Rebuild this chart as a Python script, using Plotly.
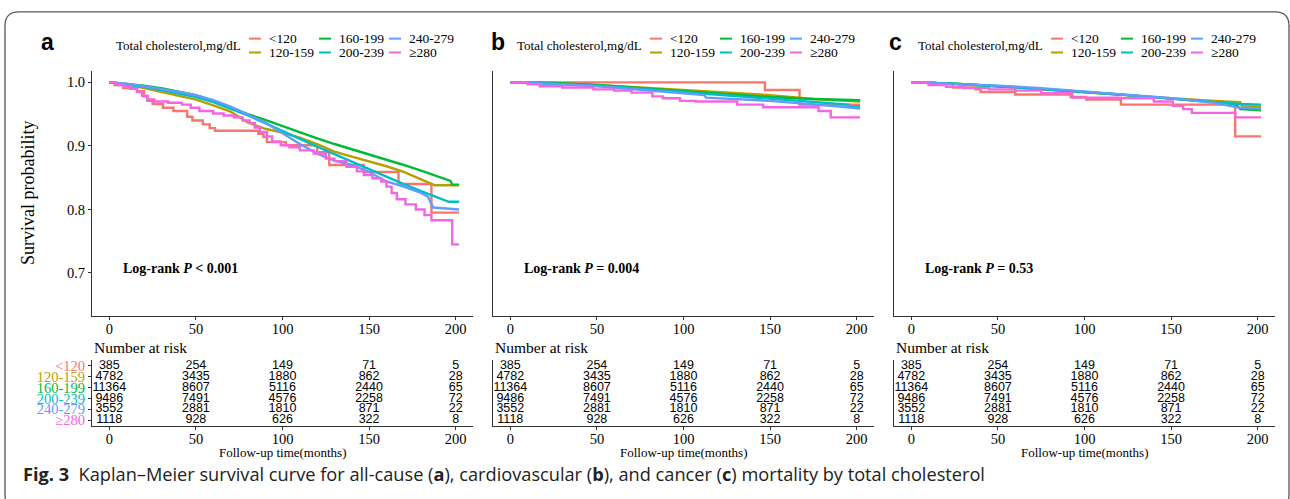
import plotly.graph_objects as go

W, H = 1290, 499


def fx(px):
    return px / W


def fy(py):
    return 1 - py / H


# ---------------- data ----------------
groups = ["<120", "120-159", "160-199", "200-239", "240-279", "≥280"]
colors = ["#F8766D", "#B79F00", "#00BA38", "#00BFC4", "#619CFF", "#F564E3"]
panel_letters = ["a", "b", "c"]
pvalue_labels = ["Log-rank <i>P</i> &lt; 0.001", "Log-rank <i>P</i> = 0.004", "Log-rank <i>P</i> = 0.53"]
x_ticks = [0, 50, 100, 150, 200]
y_ticks = [0.7, 0.8, 0.9, 1.0]
y_ticklabels = ["0.7", "0.8", "0.9", "1.0"]

# Panel a: all-cause mortality
a_lt120_t = [0, 3, 8, 16, 20, 22, 25, 31, 37, 45, 48, 54, 58, 61, 86, 89, 91, 102, 120, 127, 147, 167, 186, 202]
a_lt120_s = [1.0, .996, .991, .986, .978, .971, .966, .960, .955, .946, .940, .934, .928, .924, .919, .914, .906, .901, .890, .870, .859, .840, .795, .795]
a_120_t = [0, 10, 20, 30, 40, 50, 60, 70, 80, 90, 100, 110, 120, 130, 140, 150, 160, 170, 180, 188, 202]
a_120_s = [1.0, .997, .991, .985, .979, .973, .964, .954, .937, .927, .921, .913, .903, .891, .883, .876, .868, .859, .847, .838, .838]
a_160_t = [0, 10, 20, 30, 40, 50, 60, 70, 80, 90, 100, 110, 120, 130, 140, 150, 160, 170, 180, 190, 197, 198, 202]
a_160_s = [1.0, .998, .995, .991, .986, .980, .971, .960, .950, .941, .931, .921, .912, .903, .895, .886, .879, .870, .861, .852, .845, .839, .839]
a_200_t = [0, 10, 20, 30, 40, 50, 60, 70, 80, 90, 100, 110, 120, 130, 140, 150, 160, 170, 180, 190, 196, 202]
a_200_s = [1.0, .997, .993, .988, .983, .977, .969, .959, .948, .936, .923, .911, .899, .887, .875, .864, .852, .840, .829, .818, .812, .812]
a_240_t = [0, 10, 20, 30, 40, 50, 60, 70, 80, 90, 100, 110, 120, 130, 140, 150, 160, 170, 180, 184, 187, 202]
a_240_s = [1.0, .998, .994, .990, .985, .980, .972, .962, .950, .937, .920, .903, .888, .877, .870, .859, .844, .836, .826, .820, .803, .800]
a_280_t = [0, 4, 8, 12, 16, 19, 22, 26, 34, 42, 47, 52, 60, 66, 72, 77, 81, 84, 87, 91, 94, 99, 104, 110, 118, 125, 130, 137, 143, 147, 152, 157, 160, 163, 166, 171, 177, 182, 186, 198, 202]
a_280_s = [1.0, .996, .993, .990, .985, .979, .973, .970, .968, .965, .960, .955, .951, .948, .945, .940, .936, .929, .922, .915, .907, .901, .898, .893, .888, .880, .876, .867, .860, .854, .849, .844, .836, .826, .816, .808, .800, .791, .783, .745, .745]

# Panel b: cardiovascular mortality
b_lt120_t = [0, 147, 167, 202]
b_lt120_s = [1.0, .988, .965, .965]
b_120_t = [0, 25, 50, 75, 100, 125, 150, 175, 200, 202]
b_120_s = [1.0, .999, .996, .992, .989, .985, .980, .974, .970, .970]
b_160_t = [0, 25, 50, 75, 100, 125, 150, 175, 200, 202]
b_160_s = [1.0, .999, .996, .991, .986, .981, .977, .974, .972, .972]
b_200_t = [0, 25, 50, 75, 100, 125, 150, 175, 195, 196, 202]
b_200_s = [1.0, .998, .995, .990, .985, .980, .975, .969, .965, .962, .962]
b_240_t = [0, 25, 50, 80, 100, 112, 113, 150, 175, 190, 202]
b_240_s = [1.0, .998, .994, .988, .983, .980, .976, .971, .966, .962, .959]
b_280_t = [0, 10, 17, 30, 48, 60, 70, 82, 88, 98, 107, 131, 146, 178, 185, 202]
b_280_s = [1.0, .997, .994, .992, .989, .987, .984, .978, .975, .971, .970, .965, .961, .955, .945, .945]

# Panel c: cancer mortality
c_lt120_t = [0, 14, 24, 37, 40, 60, 92, 101, 121, 187, 202]
c_lt120_s = [1.0, .997, .992, .989, .985, .981, .977, .973, .965, .915, .915]
c_120_t = [0, 25, 50, 75, 100, 125, 150, 175, 190, 191, 202]
c_120_s = [1.0, .998, .994, .989, .984, .980, .975, .971, .969, .962, .962]
c_160_t = [0, 25, 50, 75, 100, 125, 150, 175, 187, 190, 202]
c_160_s = [1.0, .998, .994, .990, .985, .980, .975, .969, .966, .958, .956]
c_200_t = [0, 25, 50, 75, 100, 125, 150, 175, 190, 202]
c_200_s = [1.0, .998, .994, .990, .985, .980, .974, .969, .966, .965]
c_240_t = [0, 25, 50, 75, 100, 125, 150, 175, 185, 190, 202]
c_240_s = [1.0, .998, .995, .991, .986, .981, .975, .968, .963, .960, .959]
c_280_t = [0, 10, 20, 30, 45, 60, 75, 93, 121, 140, 151, 157, 162, 187, 202]
c_280_s = [1.0, .996, .993, .991, .989, .987, .983, .976, .975, .970, .963, .958, .952, .945, .945]

# Number at risk (same in every panel)
risk_times = [0, 50, 100, 150, 200]
risk_lt120 = [385, 254, 149, 71, 5]
risk_120 = [4782, 3435, 1880, 862, 28]
risk_160 = [11364, 8607, 5116, 2440, 65]
risk_200 = [9486, 7491, 4576, 2258, 72]
risk_240 = [3552, 2881, 1810, 871, 22]
risk_280 = [1118, 928, 626, 322, 8]

caption_bold = "Fig. 3"
caption_text = ("Kaplan–Meier survival curve for all-cause (<b>a</b>), cardiovascular (<b>b</b>), "
                "and cancer (<b>c</b>) mortality by total cholesterol")

# ---------------- figure ----------------
panels = [
    [(a_lt120_t, a_lt120_s), (a_120_t, a_120_s), (a_160_t, a_160_s),
     (a_200_t, a_200_s), (a_240_t, a_240_s), (a_280_t, a_280_s)],
    [(b_lt120_t, b_lt120_s), (b_120_t, b_120_s), (b_160_t, b_160_s),
     (b_200_t, b_200_s), (b_240_t, b_240_s), (b_280_t, b_280_s)],
    [(c_lt120_t, c_lt120_s), (c_120_t, c_120_s), (c_160_t, c_160_s),
     (c_200_t, c_200_s), (c_240_t, c_240_s), (c_280_t, c_280_s)],
]
risks = [risk_lt120, risk_120, risk_160, risk_200, risk_240, risk_280]

SERIF = "Liberation Serif, Times New Roman, serif"
SANS = "Liberation Sans, Arial, sans-serif"
AXC = "#333333"

axis_left = [92, 493, 894]
axis_right = [473, 874, 1275]

fig = go.Figure()
layout = dict(
    width=W, height=H, margin=dict(l=0, r=0, t=0, b=0),
    paper_bgcolor="white", plot_bgcolor="white", showlegend=False,
)

for p in range(3):
    km = p + 1
    tb = p + 4
    kx = "x" if km == 1 else f"x{km}"
    ky = "y" if km == 1 else f"y{km}"
    for g in range(6):
        t, s = panels[p][g]
        fig.add_trace(go.Scatter(
            x=t, y=s, mode="lines",
            line=dict(color=colors[g], width=2.4, shape="hv" if g in (0, 5) else "linear"),
            xaxis=kx, yaxis=ky, hoverinfo="skip", showlegend=False))
    for g in range(6):
        fig.add_trace(go.Scatter(
            x=risk_times, y=[6 - g] * len(risk_times),
            text=[str(v) for v in risks[g]], mode="text",
            textfont=dict(family=SANS, size=12.5, color="black"),
            textposition="middle center",
            xaxis=f"x{tb}", yaxis=f"y{tb}", hoverinfo="skip", showlegend=False))

    dom = [fx(axis_left[p]), fx(axis_right[p])]
    xcommon = dict(
        range=[-10, 210], tickvals=x_ticks, ticktext=[str(v) for v in x_ticks],
        ticks="outside", ticklen=3, tickwidth=1, tickcolor=AXC,
        showline=True, linecolor=AXC, linewidth=1, showgrid=False, zeroline=False,
        tickfont=dict(family=SERIF, size=14.5, color="black"), domain=dom, fixedrange=True,
        ticklabelstandoff=-3,
    )
    layout[f"xaxis{'' if km == 1 else km}"] = dict(xcommon, anchor=ky)
    layout[f"xaxis{tb}"] = dict(xcommon, anchor=f"y{tb}")
    layout[f"yaxis{'' if km == 1 else km}"] = dict(
        range=[0.6325, 1.0175], tickvals=y_ticks, ticktext=y_ticklabels,
        ticks="outside" if p == 0 else "", ticklen=3, tickcolor=AXC,
        showticklabels=(p == 0),
        showline=True, linecolor=AXC, linewidth=1, showgrid=False, zeroline=False,
        tickfont=dict(family=SERIF, size=14.5, color="black"),
        domain=[fy(317), fy(70)], anchor=kx, fixedrange=True)
    layout[f"yaxis{tb}"] = dict(
        range=[0.5, 6.5], tickvals=[6, 5, 4, 3, 2, 1],
        ticktext=[f'<span style="color:{colors[g]}">{groups[g].replace("<", "&lt;")}</span>' for g in range(6)],
        ticks="outside" if p == 0 else "", ticklen=3, tickcolor=AXC,
        showticklabels=(p == 0),
        showline=True, linecolor=AXC, linewidth=1, showgrid=False, zeroline=False,
        tickfont=dict(family=SERIF, size=14.5),
        domain=[fy(428), fy(362)], anchor=f"x{tb}", fixedrange=True)

annotations = []
shapes = []
letter_x = [47, 498, 895]
for p in range(3):
    ax0 = axis_left[p]
    annotations.append(dict(text=f"<b>{panel_letters[p]}</b>", x=fx(letter_x[p]), y=fy(40),
                            xref="paper", yref="paper", xanchor="center", yanchor="middle",
                            showarrow=False, font=dict(family=SANS, size=23, color="black")))
    annotations.append(dict(text="Total cholesterol,mg/dL", x=fx(ax0 + 22), y=fy(44),
                            xref="paper", yref="paper", xanchor="left", yanchor="middle",
                            showarrow=False, font=dict(family=SERIF, size=13, color="black")))
    for col in range(3):
        for row in range(2):
            g = col * 2 + row
            yy = 37 + 14 * row
            x0 = ax0 + 157 + 70 * col
            shapes.append(dict(type="line", xref="paper", yref="paper",
                               x0=fx(x0), x1=fx(x0 + 12), y0=fy(yy), y1=fy(yy),
                               line=dict(color=colors[g], width=2)))
            annotations.append(dict(text=groups[g].replace("<", "&lt;"), x=fx(ax0 + 175 + 70 * col), y=fy(yy),
                                    xref="paper", yref="paper", xanchor="left", yanchor="middle",
                                    showarrow=False, font=dict(family=SERIF, size=13.5, color="black")))
    km = p + 1
    annotations.append(dict(text=f"<b>{pvalue_labels[p]}</b>", x=7, y=0.707,
                            xref="x" if km == 1 else f"x{km}", yref="y" if km == 1 else f"y{km}",
                            xanchor="left", yanchor="middle", showarrow=False,
                            font=dict(family=SERIF, size=14, color="black")))
    annotations.append(dict(text="Number at risk", x=fx(ax0), y=fy(349),
                            xref="paper", yref="paper", xanchor="left", yanchor="middle",
                            showarrow=False, font=dict(family=SERIF, size=15.5, color="black")))
    annotations.append(dict(text="Follow-up time(months)", x=fx((axis_left[p] + axis_right[p]) / 2), y=fy(455),
                            xref="paper", yref="paper", xanchor="center", yanchor="middle",
                            showarrow=False, font=dict(family=SERIF, size=13, color="black")))

annotations.append(dict(text="Survival probability", x=fx(28), y=fy(193), textangle=-90,
                        xref="paper", yref="paper", xanchor="center", yanchor="middle",
                        showarrow=False, font=dict(family=SERIF, size=18, color="black")))
annotations.append(dict(text=f"<b>{caption_bold}</b>  {caption_text}", x=fx(21), y=fy(477),
                        xref="paper", yref="paper", xanchor="left", yanchor="middle",
                        showarrow=False, font=dict(family="Open Sans, Noto Sans, sans-serif", size=18.2, color="#222222")))

# rounded border frame
L, T, R, B, r = 5, 10, 1289, 512, 14
pts = [
    ("M", L + r, T), ("L", R - r, T), ("Q", R, T, R, T + r), ("L", R, B - r), ("Q", R, B, R - r, B),
    ("L", L + r, B), ("Q", L, B, L, B - r), ("L", L, T + r), ("Q", L, T, L + r, T),
]
path = ""
for seg in pts:
    cmd = seg[0]
    coords = seg[1:]
    path += cmd + " " + " ".join(
        f"{fx(coords[i]):.5f},{fy(coords[i + 1]):.5f}" for i in range(0, len(coords), 2)) + " "
path += "Z"
shapes.append(dict(type="path", path=path, xref="paper", yref="paper",
                   line=dict(color="#555555", width=1.3), fillcolor="rgba(0,0,0,0)"))

layout["annotations"] = annotations
layout["shapes"] = shapes
fig.update_layout(**layout)

fig.write_html("out.html", config={"displayModeBar": False},
               post_script="document.body.style.margin='0';document.body.style.overflow='hidden';")
